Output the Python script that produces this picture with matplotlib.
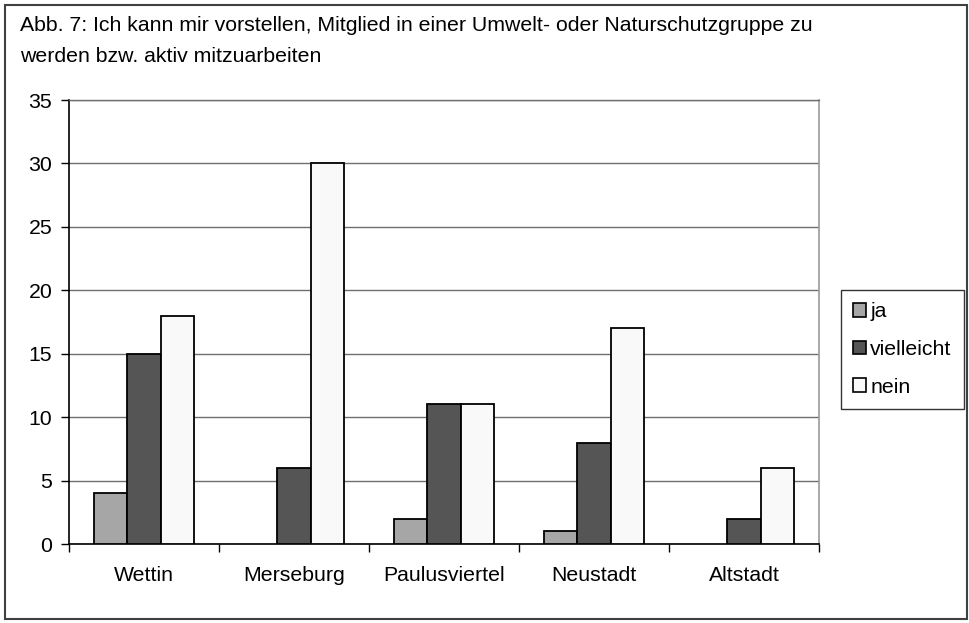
import matplotlib
matplotlib.use("Agg")
import matplotlib.pyplot as plt
import numpy as np
from matplotlib.patches import Rectangle, Patch

plt.rcParams['font.family'] = ['Liberation Sans', 'DejaVu Sans']

categories = ["Wettin", "Merseburg", "Paulusviertel", "Neustadt", "Altstadt"]
series_names = ["ja", "vielleicht", "nein"]
ja = [4, 0, 2, 1, 0]
vielleicht = [15, 6, 11, 8, 2]
nein = [18, 30, 11, 17, 6]
yticks = [0, 5, 10, 15, 20, 25, 30, 35]
title = "Abb. 7: Ich kann mir vorstellen, Mitglied in einer Umwelt- oder Naturschutzgruppe zu\nwerden bzw. aktiv mitzuarbeiten"

colors = ["#a6a6a6", "#555555", "#f9f9f9"]
FS = 15.3

W, H = 970, 623
fig = plt.figure(figsize=(W / 100, H / 100), dpi=100)
ax = fig.add_axes([69 / W, 1 - 544 / H, (819 - 69) / W, (544 - 100) / H])

x = np.arange(len(categories))
bw = 1 / 4.5
for i, (vals, col, name) in enumerate(zip([ja, vielleicht, nein], colors, series_names)):
    lws = [1.3 if v > 0 else 0 for v in vals]
    ax.bar(x + (i - 1) * bw, vals, width=bw, color=col, edgecolor="black",
           linewidth=lws, label=name, zorder=3)

ax.set_xlim(-0.5, len(categories) - 0.5)
ax.set_ylim(0, 35)
ax.set_yticks(yticks)
ax.set_yticklabels([str(v) for v in yticks], fontsize=FS)
ax.yaxis.grid(True, color="#6f6f6f", linewidth=1.0, zorder=0)
ax.set_axisbelow(True)

ax.set_xticks(np.arange(-0.5, len(categories), 1.0))
ax.set_xticklabels([])
ax.set_xticks(x, minor=True)
ax.set_xticklabels(categories, minor=True, fontsize=FS)
ax.tick_params(axis="x", which="major", direction="out", length=6, width=1, color="black")
ax.tick_params(axis="x", which="minor", length=0, pad=16)
ax.tick_params(axis="y", direction="out", length=6, width=1, pad=6, color="black")

for s in ["left", "bottom"]:
    ax.spines[s].set_color("black")
    ax.spines[s].set_linewidth(1.2)
ax.spines["right"].set_color("#9a9a9a")
ax.spines["right"].set_linewidth(1.2)
ax.spines["top"].set_color("#6f6f6f")
ax.spines["top"].set_linewidth(1.0)

handles = [Patch(facecolor=c, edgecolor="black", linewidth=1.2) for c in colors]
leg = fig.legend(handles, series_names, loc="upper left",
                 bbox_to_anchor=(841 / W, 1 - 290 / H), fontsize=FS,
                 frameon=True, fancybox=False, edgecolor="black",
                 handlelength=0.6, handleheight=0.6, handletextpad=0.2,
                 labelspacing=0.88, borderpad=0.58, borderaxespad=0)
leg.get_frame().set_linewidth(1.0)

fig.text(20 / W, 1 - 16 / H, title, fontsize=FS, ha="left", va="top", linespacing=1.78)

fig.patches.append(Rectangle((5 / W, 4 / H), (967 - 5) / W, (619 - 5) / H,
                             transform=fig.transFigure, fill=False,
                             edgecolor="#404040", linewidth=1.5))

fig.savefig("out.png", dpi=100)
